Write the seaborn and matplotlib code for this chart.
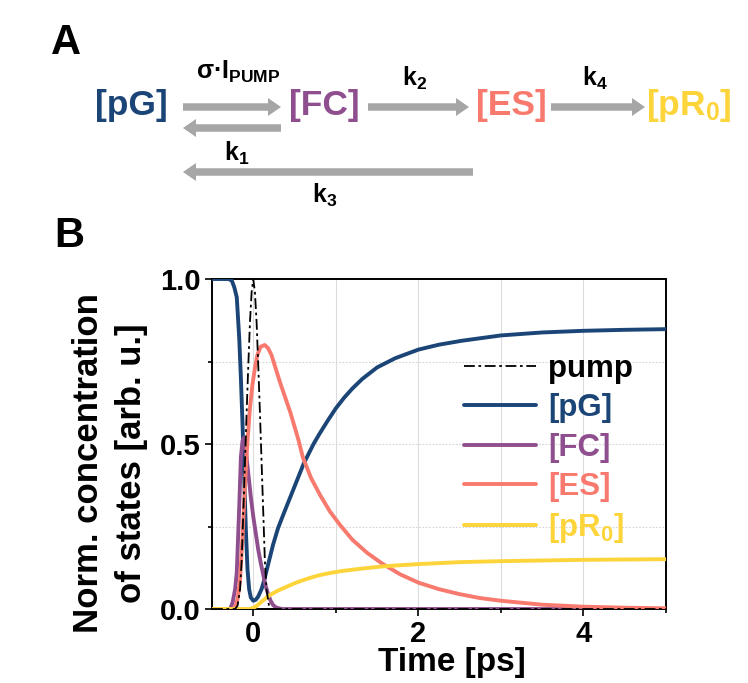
import matplotlib
matplotlib.use("Agg")
import matplotlib.pyplot as plt
import seaborn as sns
from matplotlib.patches import FancyArrow
from matplotlib.ticker import MultipleLocator, FixedLocator
from matplotlib.lines import Line2D

# ---- kinetic traces (time in ps, normalized concentration) ----
t_pump = [-0.5, -0.22, -0.19, -0.16, -0.14, -0.12, -0.10, -0.08, -0.06, -0.04, -0.02, 0.0,
          0.02, 0.04, 0.06, 0.08, 0.10, 0.12, 0.14, 0.16, 0.19, 0.22, 5.0]
pump = [0.0, 0.0, 0.01, 0.06, 0.15, 0.30, 0.45, 0.60, 0.74, 0.87, 0.96, 1.0,
        0.96, 0.87, 0.74, 0.60, 0.45, 0.30, 0.15, 0.06, 0.01, 0.0, 0.0]

t_pg = [-0.5, -0.3, -0.26, -0.23, -0.20, -0.17, -0.15, -0.13, -0.11, -0.09, -0.07, -0.05,
        -0.03, 0.0, 0.03, 0.06, 0.10, 0.13, 0.16, 0.20, 0.24, 0.30, 0.37, 0.45, 0.53,
        0.61, 0.73, 0.80, 0.90, 1.0, 1.1, 1.2, 1.32, 1.5, 1.72, 2.0, 2.25, 2.53, 3.0,
        3.5, 4.0, 4.5, 5.0]
pg = [1.0, 1.0, 0.995, 0.975, 0.945, 0.82, 0.70, 0.56, 0.40, 0.24, 0.12, 0.06,
      0.035, 0.025, 0.028, 0.038, 0.06, 0.085, 0.115, 0.155, 0.195, 0.245, 0.29, 0.34, 0.39,
      0.44, 0.50, 0.53, 0.57, 0.608, 0.64, 0.668, 0.697, 0.732, 0.76, 0.786, 0.801, 0.813,
      0.829, 0.838, 0.843, 0.846, 0.848]

t_fc = [-0.5, -0.28, -0.25, -0.22, -0.20, -0.17, -0.15, -0.13, -0.11, -0.09, -0.06, -0.03,
        0.0, 0.03, 0.06, 0.09, 0.12, 0.15, 0.18, 0.21, 0.24, 0.28, 0.35, 5.0]
fc = [0.0, 0.0, 0.02, 0.06, 0.11, 0.31, 0.46, 0.51, 0.52, 0.48, 0.41, 0.34,
      0.28, 0.23, 0.18, 0.14, 0.105, 0.07, 0.045, 0.025, 0.012, 0.004, 0.0, 0.0]

t_es = [-0.5, -0.25, -0.22, -0.19, -0.16, -0.13, -0.10, -0.07, -0.04, -0.01, 0.02, 0.05,
        0.09, 0.14, 0.18, 0.22, 0.32, 0.45, 0.55, 0.60, 0.70, 0.81, 0.93, 1.05, 1.2, 1.38,
        1.56, 1.78, 2.0, 2.25, 2.5, 2.75, 3.0, 3.5, 4.0, 4.5, 5.0]
es = [0.0, 0.0, 0.005, 0.03, 0.09, 0.22, 0.38, 0.51, 0.61, 0.68, 0.73, 0.77,
      0.795, 0.80, 0.79, 0.77, 0.69, 0.595, 0.51, 0.46, 0.397, 0.345, 0.295, 0.255, 0.21, 0.17,
      0.138, 0.105, 0.08, 0.06, 0.045, 0.033, 0.025, 0.013, 0.007, 0.004, 0.002]

t_pr = [-0.5, -0.05, 0.0, 0.04, 0.08, 0.14, 0.20, 0.30, 0.41, 0.51, 0.61, 0.71, 0.81,
        0.95, 1.07, 1.3, 1.56, 1.8, 2.0, 2.25, 2.5, 3.0, 3.5, 4.0, 4.5, 5.0]
pr = [0.0, 0.0, 0.003, 0.009, 0.018, 0.03, 0.042, 0.056, 0.068, 0.079, 0.088, 0.096, 0.103,
      0.110, 0.115, 0.122, 0.129, 0.133, 0.136, 0.139, 0.142, 0.145, 0.147, 0.149, 0.150, 0.151]

labels = ["pump", "[pG]", "[FC]", "[ES]", "[pR$_0$]"]
colors = ["#000000", "#1b4577", "#8f4f8f", "#f87a6e", "#fdd43a"]

x_ticks = [0, 2, 4]
y_ticks = [0.0, 0.5, 1.0]
y_ticklabels = ["0.0", "0.5", "1.0"]

sns.set_theme(style="white")
plt.rcParams["font.family"] = ["Liberation Sans", "DejaVu Sans"]
plt.rcParams["font.weight"] = "bold"
plt.rcParams["text.color"] = "black"
plt.rcParams["axes.labelcolor"] = "black"
plt.rcParams["xtick.color"] = "black"
plt.rcParams["ytick.color"] = "black"
plt.rcParams["mathtext.fontset"] = "custom"
plt.rcParams["mathtext.rm"] = "Liberation Sans:bold"
plt.rcParams["mathtext.it"] = "Liberation Sans:bold"
plt.rcParams["mathtext.bf"] = "Liberation Sans:bold"

W, H = 748, 683
fig = plt.figure(figsize=(W / 100, H / 100), dpi=100)
fig.patch.set_facecolor("white")

# ---- panel A: reaction scheme (pixel coordinates) ----
sch = fig.add_axes([0, 0, 1, 1])
sch.set_xlim(0, W)
sch.set_ylim(H, 0)
sch.axis("off")

arrow_kw = dict(width=7.5, head_width=18, head_length=13, length_includes_head=True,
                color="#a6a6a6", lw=0)
for x0, x1, y in [(183, 281, 107), (281, 183, 128), (368, 469, 107),
                  (551, 645, 107), (473, 183, 172)]:
    sch.add_patch(FancyArrow(x0, y, x1 - x0, 0, **arrow_kw))

state_kw = dict(ha="center", va="center", fontsize=25.5, fontweight="bold")
for txt, col, x in zip(labels[1:], colors[1:], [131, 324, 511, 689]):
    sch.text(x, 106, txt, color=col, **state_kw)

rate_kw = dict(ha="center", va="center", fontsize=18, fontweight="bold", color="black")
sch.text(238, 72, "σ·I$_\\mathrm{PUMP}$", **rate_kw)
sch.text(415, 78, "k$_2$", **rate_kw)
sch.text(595, 78, "k$_4$", **rate_kw)
sch.text(237, 153, "k$_1$", **rate_kw)
sch.text(325, 195, "k$_3$", **rate_kw)

sch.text(66, 43, "A", ha="center", va="center", fontsize=30, fontweight="bold", color="black")
sch.text(69, 236, "B", ha="center", va="center", fontsize=30, fontweight="bold", color="black")

# ---- panel B: concentration traces ----
ax = fig.add_axes([212 / W, 1 - 609 / H, 454 / W, 330 / H])
ax.set_facecolor("white")

series = [(t_pg, pg), (t_fc, fc), (t_es, es), (t_pr, pr)]
for (tx, vy), col, z in zip(series, colors[1:], [3, 4, 5, 6]):
    sns.lineplot(x=tx, y=vy, ax=ax, color=col, lw=2.8, zorder=z)
sns.lineplot(x=t_pump, y=pump, ax=ax, color="black", lw=1.3,
             linestyle=(0, (6, 2, 1.5, 2)), zorder=7)

ax.set_xlim(-0.5, 5)
ax.set_ylim(0, 1.0)
ax.xaxis.set_major_locator(FixedLocator(x_ticks))
ax.xaxis.set_minor_locator(MultipleLocator(1))
ax.set_yticks(y_ticks)
ax.set_yticklabels(y_ticklabels)
ax.yaxis.set_minor_locator(MultipleLocator(0.25))
ax.xaxis.grid(True, which="both", color="#dcdcdc", lw=0.8, ls="-")
ax.yaxis.grid(True, which="both", color="#d4d4d4", lw=0.8, ls=(0, (1.5, 1.5)))
ax.set_axisbelow(True)

ax.tick_params(which="both", direction="out", bottom=True, left=True,
               top=False, right=False, color="black", labelcolor="black", width=1.2)
ax.tick_params(which="major", length=5, labelsize=21, pad=3)
ax.tick_params(which="minor", length=3)
for lab in ax.get_xticklabels() + ax.get_yticklabels():
    lab.set_fontweight("bold")
for sp in ax.spines.values():
    sp.set_color("black")
    sp.set_linewidth(1.4)

ax.set_xlabel("Time [ps]", fontsize=24, fontweight="bold", color="black")
ax.xaxis.set_label_coords((452 - 212) / 454, (609 - 662) / 330)
ax.xaxis.label.set_va("center")
ax.set_ylabel("Norm. concentration\nof states [arb. u.]", fontsize=25, color="black",
              fontweight="bold", ha="center", va="center", linespacing=1.35)
ax.yaxis.set_label_coords((110 - 212) / 454, (609 - 463) / 330)

handles = [Line2D([], [], color="black", lw=1.3, ls=(0, (6, 2, 1.5, 2)))]
handles += [Line2D([], [], color=c, lw=2.8) for c in colors[1:]]
leg = ax.legend(handles, labels, loc="upper left", bbox_to_anchor=(0.555, 0.773),
                frameon=False, fontsize=22.5, handlelength=2.3, handletextpad=0.4,
                labelspacing=0.3, borderaxespad=0, borderpad=0)
for txt, col in zip(leg.get_texts(), colors):
    txt.set_color(col)
    txt.set_fontweight("bold")

fig.savefig("out.png", dpi=100)
